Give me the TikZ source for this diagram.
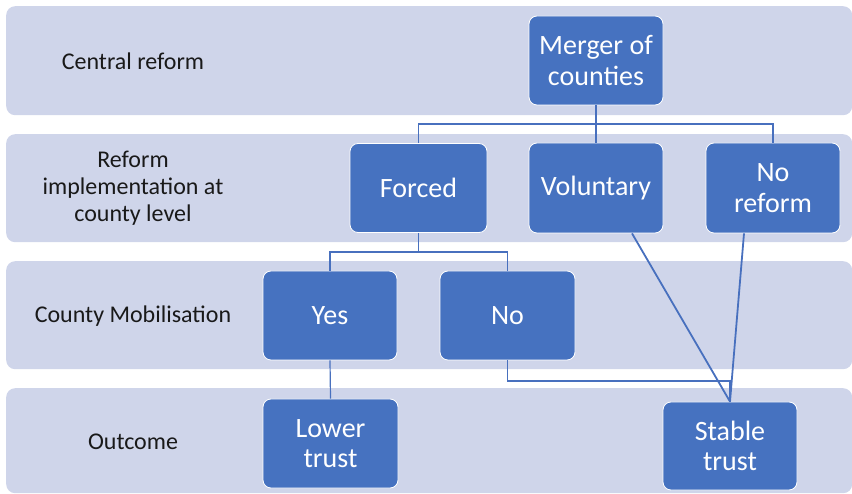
\documentclass[tikz,border=0pt]{standalone}
\usepackage{fontspec}
\setmainfont{Carlito}
\definecolor{bandc}{RGB}{207,213,234}
\definecolor{boxc}{RGB}{70,114,192}
\definecolor{linec}{RGB}{72,112,190}
\definecolor{labc}{RGB}{25,25,25}
\tikzset{
  band/.style={fill=bandc, draw=none, rounded corners=9pt, anchor=north west},
  bx/.style={fill=boxc, draw=white, line width=0.8pt, rounded corners=8pt, text=white,
    font=\fontsize{28}{30.5}\selectfont, align=center, inner sep=0pt},
  lab/.style={text=labc, font=\fontsize{24}{27}\selectfont, align=center},
  conn/.style={draw=linec, line width=1.2pt},
  diag/.style={draw=linec, line width=1.8pt},
}
\begin{document}
\begin{tikzpicture}[x=1pt,y=-1pt]
\useasboundingbox (0,0) rectangle (852,494);
% bands
\node[band, minimum width=846pt, minimum height=109pt] (b1) at (6,6) {};
\node[band, minimum width=846pt, minimum height=108pt] (b2) at (6,134) {};
\node[band, minimum width=846pt, minimum height=108pt] (b3) at (6,261) {};
\node[band, minimum width=846pt, minimum height=105pt] (b4) at (6,388) {};
% labels
\node[lab] (l1) at (133,61) {Central reform};
\node[lab] (l2) at (133,188) {Reform\\implementation at\\county level};
\node[lab] (l3) at (133,316) {County Mobilisation};
\node[lab] (l4) at (133,442) {Outcome};
% boxes
\node[bx, minimum width=134pt, minimum height=89pt] (merger) at (596,60.5) {Merger of\\counties};
\node[bx, minimum width=137pt, minimum height=89pt] (forced) at (418.5,188) {Forced};
\node[bx, minimum width=134pt, minimum height=90pt] (vol) at (596,188) {Voluntary};
\node[bx, minimum width=134pt, minimum height=90pt] (noref) at (773,188) {No\\reform};
\node[bx, minimum width=134pt, minimum height=89pt] (yes) at (330,315.5) {Yes};
\node[bx, minimum width=135pt, minimum height=89pt] (no) at (507.5,315.5) {No};
\node[bx, minimum width=135pt, minimum height=89pt] (lower) at (330.5,443.5) {Lower\\trust};
\node[bx, minimum width=134pt, minimum height=88pt] (stable) at (730,446) {Stable\\trust};
% connectors
\coordinate (j1) at (596,124);
\coordinate (j2) at (418.5,252);
\coordinate (j3) at (730,381);
\draw[conn] (merger.south) -- (j1);
\draw[conn] (forced.north) |- (j1) -| (noref.north);
\draw[conn] (j1) -- (vol.north);
\draw[conn] (forced.south) -- (j2);
\draw[conn] (yes.north) |- (j2) -| (no.north);
\draw[conn] (yes.south) -- (lower.north);
\draw[conn] (no.south) |- (j3) -- (stable.north);
\draw[diag] ([xshift=36pt]vol.south) -- (stable.north);
\draw[diag] ([xshift=-29pt]noref.south) -- (stable.north);
\end{tikzpicture}
\end{document}
